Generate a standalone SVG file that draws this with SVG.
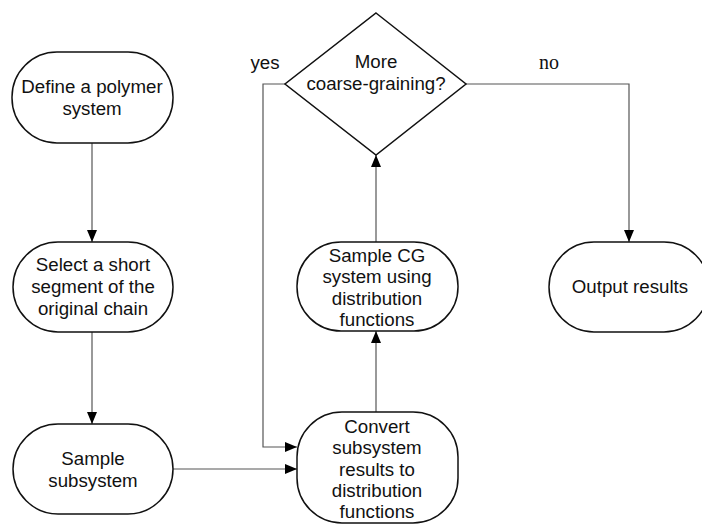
<svg xmlns="http://www.w3.org/2000/svg" width="702" height="524" viewBox="0 0 702 524">
<defs>
<marker id="ah" viewBox="0 0 12 10" refX="12" refY="5" markerWidth="12" markerHeight="10" markerUnits="userSpaceOnUse" orient="auto">
<path d="M0,0 L12,5 L0,10 Z" fill="#000"/>
</marker>
<style>
.n{fill:#fff;stroke:#111;stroke-width:1.5}
.t{font-family:"Liberation Sans",Arial,sans-serif;font-size:18.7px;fill:#111;text-anchor:middle}
.c{fill:none;stroke:#555;stroke-width:1.2}
.l{font-family:"Liberation Sans",Arial,sans-serif;font-size:18.7px;fill:#111;text-anchor:middle}
.ls{font-family:"Liberation Serif","Times New Roman",serif;font-size:20px;fill:#111;text-anchor:middle}
</style>
</defs>
<rect width="702" height="524" fill="#fff"/>
<g id="connectors">
<path class="c" d="M92,143 V242" marker-end="url(#ah)"/>
<path class="c" d="M92,332 V424" marker-end="url(#ah)"/>
<path class="c" d="M173,469 H297" marker-end="url(#ah)"/>
<path class="c" d="M285,84 H263 V447 H297" marker-end="url(#ah)"/>
<path class="c" d="M376,412 V331" marker-end="url(#ah)"/>
<path class="c" d="M376,242 V155" marker-end="url(#ah)"/>
<path class="c" d="M466,84 H629 V242" marker-end="url(#ah)"/>
<text class="l" x="265" y="69">yes</text>
<text class="ls" x="549" y="69">no</text>
</g>
<g id="define">
<rect class="n" x="12" y="52" width="161" height="91" rx="45" ry="45"/>
<text class="t" x="92" y="93">Define a polymer</text>
<text class="t" x="92" y="115">system</text>
</g>
<g id="select">
<rect class="n" x="13" y="242" width="160" height="90" rx="45" ry="45"/>
<text class="t" x="93" y="271">Select a short</text>
<text class="t" x="93" y="293">segment of the</text>
<text class="t" x="93" y="315">original chain</text>
</g>
<g id="sample-subsystem">
<rect class="n" x="13" y="424" width="160" height="90" rx="45" ry="45"/>
<text class="t" x="93" y="465">Sample</text>
<text class="t" x="93" y="487">subsystem</text>
</g>
<g id="convert">
<rect class="n" x="297" y="412" width="161" height="111" rx="45" ry="45"/>
<text class="t" x="377" y="433">Convert</text>
<text class="t" x="377" y="454">subsystem</text>
<text class="t" x="377" y="476">results to</text>
<text class="t" x="377" y="497">distribution</text>
<text class="t" x="377" y="518">functions</text>
</g>
<g id="sample-cg">
<rect class="n" x="297" y="242" width="161" height="89" rx="44" ry="44"/>
<text class="t" x="377" y="262">Sample CG</text>
<text class="t" x="377" y="283">system using</text>
<text class="t" x="377" y="305">distribution</text>
<text class="t" x="377" y="326">functions</text>
</g>
<g id="decision">
<polygon class="n" points="376,13 466,84 376,155 285,84"/>
<text class="t" x="376" y="68">More</text>
<text class="t" x="376" y="90">coarse-graining?</text>
</g>
<g id="output">
<rect class="n" x="549" y="242" width="160" height="90" rx="45" ry="45"/>
<text class="t" x="630" y="293">Output results</text>
</g>
</svg>
